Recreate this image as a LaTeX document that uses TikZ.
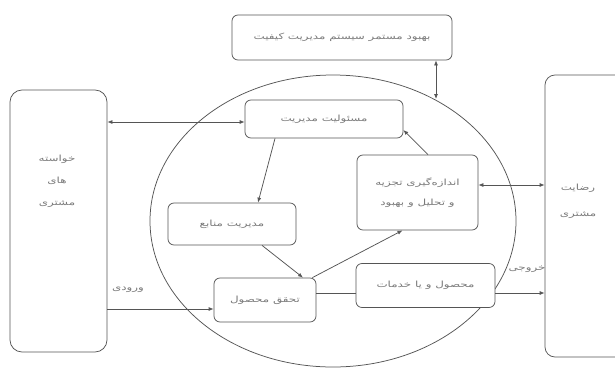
\documentclass[tikz,border=0pt]{standalone}
\usepackage{fontspec}
\newfontfamily\fa[Script=Arabic, FakeStretch=1.4]{DejaVu Sans}
\TeXXeTstate=1
\usetikzlibrary{arrows.meta,shapes.geometric}
\definecolor{lc}{HTML}{555555}
\definecolor{tc}{HTML}{7A7A7A}
\newcommand\fat[1]{{\fa\beginR #1\endR}}
\begin{document}
\begin{tikzpicture}[x=1pt,y=-1pt,
  box/.style={draw=lc, line width=0.75pt, rounded corners=6pt, fill=white, inner sep=0pt,
    text=tc, font=\fontsize{8.5}{10}\selectfont, align=center},
  lbl/.style={text=tc, font=\fontsize{8.5}{10}\selectfont, align=center, inner sep=1pt},
  tip/.tip={Latex[length=5pt,width=4pt]},
  arr/.style={draw=lc, line width=0.75pt, -tip},
  darr/.style={draw=lc, line width=0.75pt, tip-tip}]
\useasboundingbox (0,0) rectangle (615,386);
\clip (0,0) rectangle (615,386);
\fill[white] (0,0) rectangle (615,386);

% big ellipse
\node[draw=lc, line width=0.75pt, ellipse, minimum width=366pt, minimum height=292pt, inner sep=0pt] (ell) at (333,221) {};

% side boxes
\node[box, rounded corners=12pt, minimum width=97pt, minimum height=262pt] (left) at (58.5,221) {};
\node[lbl] (ltxt) at (57,181) {\fat{خواسته}\\[12pt]\fat{های}\\[12pt]\fat{مشتری}};
\node[box, rounded corners=10pt, minimum width=80pt, minimum height=282pt] (right) at (585,216) {};
\node[lbl] (rtxt) at (578,201) {\fat{رضایت}\\[16pt]\fat{مشتری}};

% inner boxes
\node[box, minimum width=220pt, minimum height=45pt] (top) at (342,37.5) {\fat{بهبود مستمر سیستم مدیریت کیفیت}};
\node[box, minimum width=158pt, minimum height=38pt] (mgmt) at (324,119) {\fat{مسئولیت مدیریت}};
\node[box, minimum width=121pt, minimum height=75pt] (meas) at (417.5,192.5) {\fat{اندازه‌گیری تجزیه}\\[10pt]\fat{و تحلیل و بهبود}};
\node[box, minimum width=128pt, minimum height=42pt] (res) at (232,224) {\fat{مدیریت منابع}};
\node[box, minimum width=102pt, minimum height=44pt] (prod) at (265,300) {\fat{تحقق محصول}};
\node[box, minimum width=139pt, minimum height=44pt] (out) at (425.5,285.5) {\fat{محصول و یا خدمات}};

% connectors
\coordinate (e1) at (436,99);
\draw[darr] (left.east |- 0,122) -- (mgmt.west |- 0,122);
\draw[darr] (top.south -| e1) -- (e1);
\draw[arr] (meas.north -| 428,0) -- ([yshift=-11pt]mgmt.east);
\draw[arr] ([xshift=-49pt]mgmt.south) -- ([xshift=26pt]res.north);
\draw[arr] ([xshift=30pt]res.south) -- ([xshift=38pt]prod.north);
\draw[arr] ([xshift=-4pt]prod.north east) -- ([xshift=-15pt]meas.south);
\draw[draw=lc, line width=0.75pt] ([yshift=-7.5pt]out.west -| prod.east) -- ([yshift=-7.5pt]out.west);
\draw[arr] ([yshift=-7.5pt]out.east) -- ([yshift=-7.5pt]out.east -| right.west);
\draw[arr] ([yshift=-9pt]prod.west -| left.east) -- ([yshift=-9pt]prod.west);
\draw[darr] ([yshift=7.5pt]meas.east) -- ([yshift=7.5pt]meas.east -| right.west);

% labels
\node[lbl] (inl) at (128,290) {\fat{ورودی}};
\node[lbl] (outl) at (527,269) {\fat{خروجی}};
\end{tikzpicture}
\end{document}
